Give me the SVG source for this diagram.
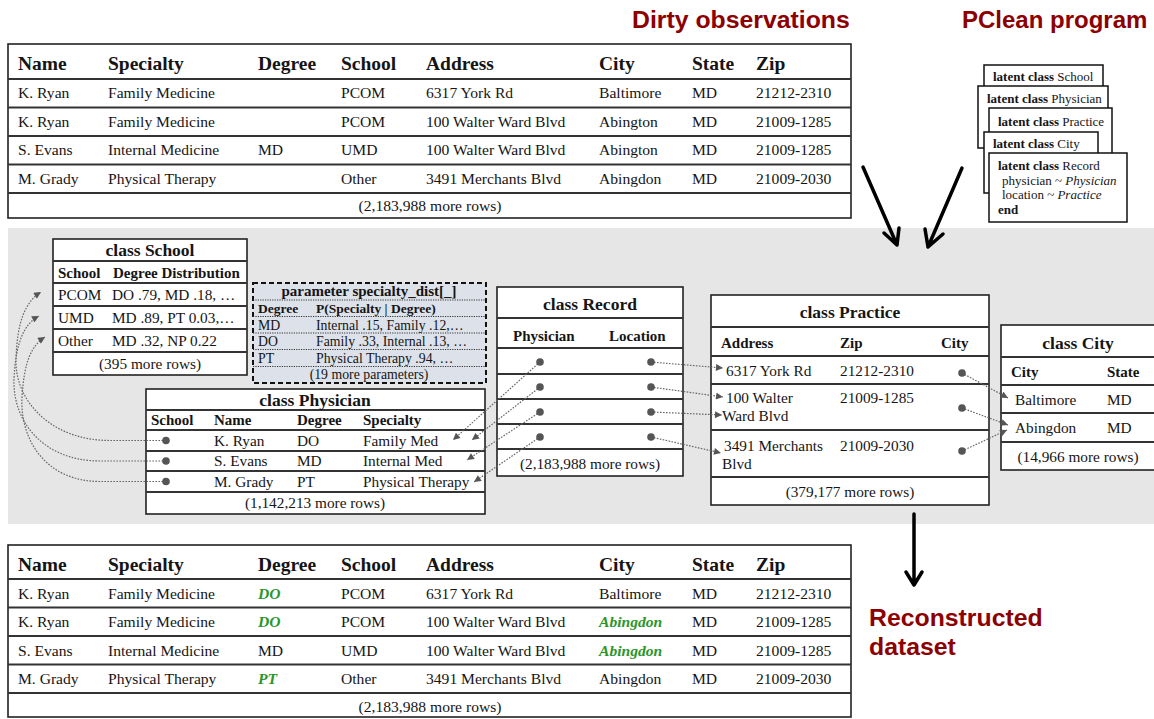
<svg xmlns="http://www.w3.org/2000/svg" width="1154" height="719" viewBox="0 0 1154 719">
<style>
text{font-family:"Liberation Sans",Arial,sans-serif;fill:#151515}
.s{font-family:"Liberation Serif","Times New Roman",serif}
.hd{font-size:19.5px;font-weight:bold}
.rw{font-size:15.6px}
.tt{font-size:17.5px;font-weight:bold}
.ch{font-size:15px;font-weight:bold}
.cr{font-size:15.3px}
.c{text-anchor:middle}
.lab{font-family:"Liberation Sans",Arial,sans-serif;font-weight:bold;font-size:24.8px;fill:#8c0000}
.box{fill:#fff;stroke:#222;stroke-width:1.6}
.ln{stroke:#333;stroke-width:1.8;fill:none}
.g{fill:#2a962a;font-style:italic;font-weight:bold}
.dot{fill:#555}
.dl{fill:none;stroke:#666;stroke-width:1.2;stroke-dasharray:1.6 1.4}
.card{fill:#fff;stroke:#111;stroke-width:1.5}
.cd{font-size:13px}
.big{fill:none;stroke:#000;stroke-width:3.5;stroke-linecap:round;stroke-linejoin:round}
.pbox{fill:#dde2ea;stroke:#111;stroke-width:2;stroke-dasharray:5 3}
.pl{stroke:#333;stroke-width:1;stroke-dasharray:1.2 1.2}
.pt{font-size:15px;font-weight:bold}
.ph{font-size:13.5px;font-weight:bold}
.pr{font-size:13.8px}
</style>
<defs>
<marker id="ah" viewBox="0 0 10 10" refX="10" refY="5" markerWidth="8" markerHeight="7" orient="auto" markerUnits="userSpaceOnUse"><path d="M0,0 L10,5 L0,10 z" fill="#555"/></marker>
</defs>
<rect width="1154" height="719" fill="#fff"/>

<g id="labels">
<text class="lab" x="632" y="28">Dirty observations</text>
<text class="lab" x="962" y="28" style="font-size:24px">PClean program</text>
<text class="lab" x="773" y="273">Inferred latent database</text>
<text class="lab" x="869" y="626">Reconstructed</text>
<text class="lab" x="869" y="655">dataset</text>
</g>

<g class="s">
<g id="dirty-table">
<rect class="box" x="8" y="44" width="843" height="174"/>
<path class="ln" d="M8,79H851M8,107.5H851M8,136H851M8,164.5H851M8,193H851"/>
<g class="hd">
<text class="s" x="18" y="70">Name</text><text class="s" x="108" y="70">Specialty</text><text class="s" x="258" y="70">Degree</text><text class="s" x="341" y="70">School</text><text class="s" x="426" y="70">Address</text><text class="s" x="599" y="70">City</text><text class="s" x="692" y="70">State</text><text class="s" x="756" y="70">Zip</text>
</g>
<g class="rw">
<text class="s" x="18" y="98">K. Ryan</text><text class="s" x="108" y="98">Family Medicine</text><text class="s" x="341" y="98">PCOM</text><text class="s" x="426" y="98">6317 York Rd</text><text class="s" x="599" y="98">Baltimore</text><text class="s" x="692" y="98">MD</text><text class="s" x="756" y="98">21212-2310</text>
<text class="s" x="18" y="127">K. Ryan</text><text class="s" x="108" y="127">Family Medicine</text><text class="s" x="341" y="127">PCOM</text><text class="s" x="426" y="127">100 Walter Ward Blvd</text><text class="s" x="599" y="127">Abington</text><text class="s" x="692" y="127">MD</text><text class="s" x="756" y="127">21009-1285</text>
<text class="s" x="18" y="155">S. Evans</text><text class="s" x="108" y="155">Internal Medicine</text><text class="s" x="258" y="155">MD</text><text class="s" x="341" y="155">UMD</text><text class="s" x="426" y="155">100 Walter Ward Blvd</text><text class="s" x="599" y="155">Abington</text><text class="s" x="692" y="155">MD</text><text class="s" x="756" y="155">21009-1285</text>
<text class="s" x="18" y="184">M. Grady</text><text class="s" x="108" y="184">Physical Therapy</text><text class="s" x="341" y="184">Other</text><text class="s" x="426" y="184">3491 Merchants Blvd</text><text class="s" x="599" y="184">Abingdon</text><text class="s" x="692" y="184">MD</text><text class="s" x="756" y="184">21009-2030</text>
<text class="s c" x="430" y="211">(2,183,988 more rows)</text>
</g>
</g>

<g id="pclean-program">
<rect class="card" x="984" y="65" width="119" height="40"/>
<text class="s cd" x="993" y="81"><tspan font-weight="bold">latent class</tspan> School</text>
<rect class="card" x="978" y="86" width="130" height="62"/>
<text class="s cd" x="987" y="103"><tspan font-weight="bold">latent class</tspan> Physician</text>
<rect class="card" x="989" y="108" width="123" height="60"/>
<text class="s cd" x="998" y="126"><tspan font-weight="bold">latent class</tspan> Practice</text>
<rect class="card" x="984" y="132" width="114" height="61"/>
<text class="s cd" x="993" y="148"><tspan font-weight="bold">latent class</tspan> City</text>
<rect class="card" x="989" y="153" width="138" height="69"/>
<text class="s cd" x="998" y="170"><tspan font-weight="bold">latent class</tspan> Record</text>
<text class="s cd" x="1002" y="185">physician ~ <tspan font-style="italic">Physician</tspan></text>
<text class="s cd" x="1002" y="199">location ~ <tspan font-style="italic">Practice</tspan></text>
<text class="s cd" x="998" y="214" font-weight="bold">end</text>
</g>

<rect id="latent-db-band" x="8" y="228" width="1150" height="296" fill="#e6e6e6"/>

<g id="flow-arrows">
<path class="big" d="M863,167L897,245M884,233L897,245L899,228"/>
<path class="big" d="M962,168L928,247M943,234L928,247L925,229"/>
<path class="big" d="M914,514L914,585M906,572L914,585L922,572"/>
</g>

<g id="class-school">
<rect class="box" x="53" y="239" width="194" height="136"/>
<path class="ln" d="M53,261H247M53,283H247M53,306H247M53,329H247M53,352H247"/>
<text class="s tt c" x="150" y="256">class School</text>
<text class="s ch" x="58" y="278">School</text><text class="s ch" x="113" y="278">Degree Distribution</text>
<g class="cr">
<text class="s" x="58" y="300">PCOM</text><text class="s" x="112" y="300">DO .79, MD .18, …</text>
<text class="s" x="58" y="323">UMD</text><text class="s" x="112" y="323">MD .89, PT 0.03,…</text>
<text class="s" x="58" y="346">Other</text><text class="s" x="112" y="346">MD .32, NP 0.22</text>
<text class="s c" x="150" y="369">(395 more rows)</text>
</g>
</g>

<g id="param-specialty">
<rect class="pbox" x="253" y="283" width="233" height="100"/>
<path class="pl" d="M253,300H486M253,316.5H486M253,333H486M253,349.5H486M253,366.5H486"/>
<text class="s pt c" x="369" y="296">parameter specialty_dist[_]</text>
<text class="s ph" x="258" y="313">Degree</text><text class="s ph" x="316" y="313">P(Specialty | Degree)</text>
<g class="pr">
<text class="s" x="258" y="329.5">MD</text><text class="s" x="316" y="329.5">Internal  .15, Family .12,…</text>
<text class="s" x="258" y="346">DO</text><text class="s" x="316" y="346">Family .33, Internal .13, …</text>
<text class="s" x="258" y="362.5">PT</text><text class="s" x="316" y="362.5">Physical Therapy  .94, …</text>
<text class="s c" x="369" y="379">(19 more parameters)</text>
</g>
</g>

<g id="class-physician">
<rect class="box" x="146" y="389" width="339" height="125"/>
<path class="ln" d="M146,410H485M146,430H485M146,451H485M146,471H485M146,492H485"/>
<text class="s tt c" x="315" y="406">class Physician</text>
<text class="s ch" x="151" y="425">School</text><text class="s ch" x="214" y="425">Name</text><text class="s ch" x="297" y="425">Degree</text><text class="s ch" x="363" y="425">Specialty</text>
<g class="cr">
<text class="s" x="214" y="446">K. Ryan</text><text class="s" x="297" y="446">DO</text><text class="s" x="363" y="446">Family Med</text>
<text class="s" x="214" y="466">S. Evans</text><text class="s" x="297" y="466">MD</text><text class="s" x="363" y="466">Internal Med</text>
<text class="s" x="214" y="487">M. Grady</text><text class="s" x="297" y="487">PT</text><text class="s" x="363" y="487">Physical Therapy</text>
<text class="s c" x="315" y="508">(1,142,213 more rows)</text>
</g>
</g>

<g id="class-record">
<rect class="box" x="497" y="287" width="186" height="189"/>
<path class="ln" d="M497,318H683M497,348H683M497,374H683M497,399H683M497,424H683M497,449H683"/>
<text class="s tt c" x="590" y="310">class Record</text>
<text class="s ch" x="513" y="341" font-size="16px">Physician</text><text class="s ch" x="609" y="341" font-size="16px">Location</text>
<text class="s cr c" x="590" y="469">(2,183,988 more rows)</text>
</g>

<g id="class-practice">
<rect class="box" x="711" y="295" width="278" height="210"/>
<path class="ln" d="M711,327H989M711,356H989M711,384H989M711,430H989M711,477H989"/>
<text class="s tt c" x="850" y="318">class Practice</text>
<text class="s ch" x="721" y="348">Address</text><text class="s ch" x="840" y="348">Zip</text><text class="s ch" x="941" y="348">City</text>
<g class="cr">
<text class="s" x="726" y="376">6317 York Rd</text><text class="s" x="840" y="376">21212-2310</text>
<text class="s" x="726" y="403">100 Walter</text><text class="s" x="722" y="421">Ward Blvd</text><text class="s" x="840" y="403">21009-1285</text>
<text class="s" x="724" y="451">3491 Merchants</text><text class="s" x="722" y="469">Blvd</text><text class="s" x="840" y="451">21009-2030</text>
<text class="s c" x="850" y="497">(379,177 more rows)</text>
</g>
</g>

<g id="class-city">
<rect class="box" x="1001" y="325" width="160" height="145"/>
<path class="ln" d="M1001,357H1161M1001,385H1161M1001,413H1161M1001,442H1161"/>
<text class="s tt c" x="1078" y="349">class City</text>
<text class="s ch" x="1011" y="377">City</text><text class="s ch" x="1107" y="377">State</text>
<g class="cr">
<text class="s" x="1015" y="405">Baltimore</text><text class="s" x="1107" y="405">MD</text>
<text class="s" x="1015" y="433">Abingdon</text><text class="s" x="1107" y="433">MD</text>
<text class="s c" x="1078" y="462">(14,966 more rows)</text>
</g>
</g>

<g id="connectors">
<path class="dl" marker-end="url(#ah)" d="M166,440.5L110,440.5C50,440.5 15,400 16,360C17,322 25,302 41,292"/>
<path class="dl" marker-end="url(#ah)" d="M166,461L100,461C42,461 12,420 14,378C16,342 24,324 39,316"/>
<path class="dl" marker-end="url(#ah)" d="M166,481.5L100,481.5C46,481.5 20,440 22,398C24,362 31,346 45,337"/>
<path class="dl" marker-end="url(#ah)" d="M540,362L453,440"/>
<path class="dl" marker-end="url(#ah)" d="M540,387L472,440"/>
<path class="dl" marker-end="url(#ah)" d="M540,412L467,460"/>
<path class="dl" marker-end="url(#ah)" d="M540,437L474,482"/>
<path class="dl" marker-end="url(#ah)" d="M651,362L723,368"/>
<path class="dl" marker-end="url(#ah)" d="M651,387L723,397"/>
<path class="dl" marker-end="url(#ah)" d="M651,412L722,415"/>
<path class="dl" marker-end="url(#ah)" d="M651,437L721,453"/>
<path class="dl" marker-end="url(#ah)" d="M962,373L1008,398"/>
<path class="dl" marker-end="url(#ah)" d="M962,408L1008,425"/>
<path class="dl" marker-end="url(#ah)" d="M962,451L1007,430"/>
<g class="dot">
<circle cx="166" cy="440.5" r="3.8"/><circle cx="166" cy="461" r="3.8"/><circle cx="166" cy="481.5" r="3.8"/>
<circle cx="540" cy="362" r="3.8"/><circle cx="540" cy="387" r="3.8"/><circle cx="540" cy="412" r="3.8"/><circle cx="540" cy="437" r="3.8"/>
<circle cx="651" cy="362" r="3.8"/><circle cx="651" cy="387" r="3.8"/><circle cx="651" cy="412" r="3.8"/><circle cx="651" cy="437" r="3.8"/>
<circle cx="962" cy="373" r="3.8"/><circle cx="962" cy="408" r="3.8"/><circle cx="962" cy="451" r="3.8"/>
</g>
</g>

<g id="reconstructed-table">
<rect class="box" x="8" y="545" width="843" height="172"/>
<path class="ln" d="M8,579H851M8,607.5H851M8,636H851M8,664.5H851M8,693H851"/>
<g class="hd">
<text class="s" x="18" y="571">Name</text><text class="s" x="108" y="571">Specialty</text><text class="s" x="258" y="571">Degree</text><text class="s" x="341" y="571">School</text><text class="s" x="426" y="571">Address</text><text class="s" x="599" y="571">City</text><text class="s" x="692" y="571">State</text><text class="s" x="756" y="571">Zip</text>
</g>
<g class="rw">
<text class="s" x="18" y="599">K. Ryan</text><text class="s" x="108" y="599">Family Medicine</text><text class="s g" x="258" y="599">DO</text><text class="s" x="341" y="599">PCOM</text><text class="s" x="426" y="599">6317 York Rd</text><text class="s" x="599" y="599">Baltimore</text><text class="s" x="692" y="599">MD</text><text class="s" x="756" y="599">21212-2310</text>
<text class="s" x="18" y="627">K. Ryan</text><text class="s" x="108" y="627">Family Medicine</text><text class="s g" x="258" y="627">DO</text><text class="s" x="341" y="627">PCOM</text><text class="s" x="426" y="627">100 Walter Ward Blvd</text><text class="s g" x="599" y="627">Abingdon</text><text class="s" x="692" y="627">MD</text><text class="s" x="756" y="627">21009-1285</text>
<text class="s" x="18" y="656">S. Evans</text><text class="s" x="108" y="656">Internal Medicine</text><text class="s" x="258" y="656">MD</text><text class="s" x="341" y="656">UMD</text><text class="s" x="426" y="656">100 Walter Ward Blvd</text><text class="s g" x="599" y="656">Abingdon</text><text class="s" x="692" y="656">MD</text><text class="s" x="756" y="656">21009-1285</text>
<text class="s" x="18" y="684">M. Grady</text><text class="s" x="108" y="684">Physical Therapy</text><text class="s g" x="258" y="684">PT</text><text class="s" x="341" y="684">Other</text><text class="s" x="426" y="684">3491 Merchants Blvd</text><text class="s" x="599" y="684">Abingdon</text><text class="s" x="692" y="684">MD</text><text class="s" x="756" y="684">21009-2030</text>
<text class="s c" x="430" y="712">(2,183,988 more rows)</text>
</g>
</g>
</g>
</svg>
